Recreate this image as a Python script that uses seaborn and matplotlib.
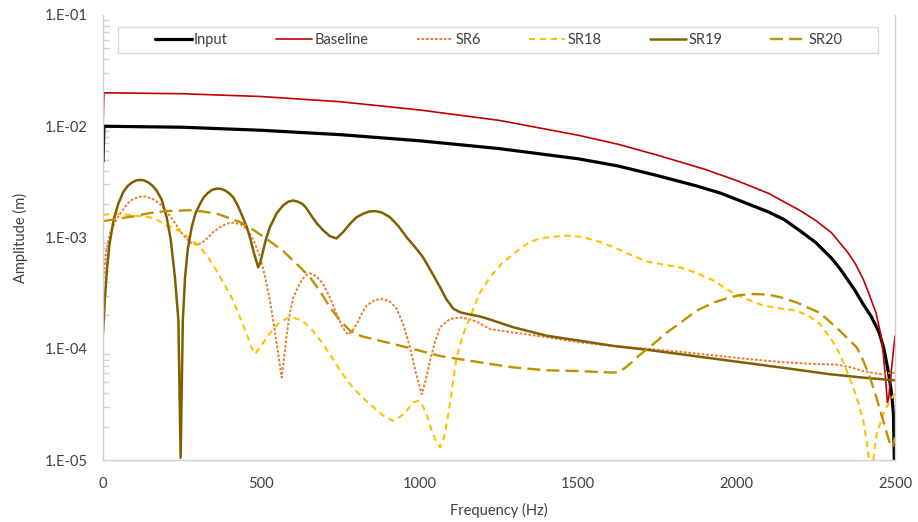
import numpy as np
import pandas as pd
import seaborn as sns
import matplotlib
matplotlib.use("Agg")
import matplotlib.pyplot as plt
from matplotlib.ticker import FixedLocator, FuncFormatter, LogLocator, NullFormatter
from matplotlib.patches import Rectangle

# ---- spectra (frequency in Hz, amplitude in m) ----
input_freq = [0, 3, 250, 500, 750, 1000, 1250, 1500, 1625, 1750, 1875, 1950, 2000, 2100, 2150,
              2200, 2250, 2300, 2325, 2350, 2375, 2400, 2425, 2450, 2465, 2480, 2490, 2495, 2500]
input_amp = [4.8e-3, 1.0e-2, 9.8e-3, 9.2e-3, 8.4e-3, 7.4e-3, 6.3e-3, 5.1e-3, 4.4e-3, 3.6e-3, 2.9e-3,
             2.5e-3, 2.2e-3, 1.7e-3, 1.45e-3, 1.15e-3, 9.0e-4, 6.5e-4, 5.3e-4, 4.2e-4, 3.3e-4,
             2.5e-4, 1.95e-4, 1.4e-4, 1.0e-4, 6.0e-5, 3.8e-5, 2.6e-5, 5e-6]

baseline_freq = [0, 3, 250, 500, 750, 1000, 1250, 1500, 1625, 1750, 1900, 2000, 2100, 2200, 2250,
                 2300, 2350, 2375, 2400, 2420, 2440, 2455, 2463, 2470, 2476, 2480, 2490, 2500]
baseline_amp = [9.6e-3, 2.0e-2, 1.96e-2, 1.85e-2, 1.66e-2, 1.40e-2, 1.13e-2, 8.3e-3, 6.9e-3, 5.5e-3,
                4.1e-3, 3.25e-3, 2.5e-3, 1.75e-3, 1.42e-3, 1.1e-3, 7.4e-4, 5.8e-4, 4.2e-4, 3.0e-4,
                2.1e-4, 1.35e-4, 9e-5, 5.5e-5, 3.3e-5, 3.6e-5, 7e-5, 1.3e-4]

sr6_freq = [0, 10, 22, 38, 54, 75, 96, 115, 133, 157, 180, 200, 222, 243, 264, 280, 296, 311, 327,
            348, 369, 390, 411, 433, 454, 475, 496, 512, 527, 540, 553, 564, 572, 580, 590, 601,
            622, 637, 653, 674, 695, 716, 737, 756, 774, 787, 801, 816, 832, 858, 885, 906, 927,
            948, 969, 988, 1006, 1019, 1032, 1048, 1064, 1095, 1127, 1155, 1180, 1222, 1295, 1400,
            1506, 1611, 1716, 1821, 1930, 2032, 2140, 2242, 2316, 2360, 2400, 2453, 2500]
sr6_amp = [3.9e-4, 7.5e-4, 1.09e-3, 1.38e-3, 1.64e-3, 1.98e-3, 2.23e-3, 2.32e-3, 2.34e-3, 2.22e-3,
           2.0e-3, 1.72e-3, 1.42e-3, 1.15e-3, 9.7e-4, 8.9e-4, 8.6e-4, 8.9e-4, 9.7e-4, 1.12e-3,
           1.24e-3, 1.33e-3, 1.36e-3, 1.32e-3, 1.2e-3, 9.5e-4, 6.65e-4, 4.4e-4, 2.71e-4, 1.6e-4,
           8.95e-5, 5.5e-5, 8.5e-5, 1.35e-4, 2.1e-4, 2.9e-4, 3.9e-4, 4.5e-4, 4.77e-4, 4.5e-4,
           3.8e-4, 2.9e-4, 2.06e-4, 1.55e-4, 1.34e-4, 1.45e-4, 1.67e-4, 2.05e-4, 2.44e-4, 2.75e-4,
           2.8e-4, 2.65e-4, 2.29e-4, 1.65e-4, 1.03e-4, 6.0e-5, 3.9e-5, 5.2e-5, 7.8e-5, 1.15e-4,
           1.56e-4, 1.85e-4, 1.91e-4, 1.85e-4, 1.75e-4, 1.5e-4, 1.4e-4, 1.27e-4, 1.14e-4, 1.06e-4,
           1.0e-4, 9.4e-5, 8.7e-5, 8.1e-5, 7.6e-5, 7.3e-5, 7.2e-5, 6.8e-5, 6.3e-5, 5.9e-5, 6.1e-5]

sr18_freq = [0, 40, 96, 148, 175, 201, 227, 253, 280, 306, 332, 359, 385, 411, 433, 454, 467, 480,
             498, 517, 538, 559, 580, 601, 627, 653, 685, 716, 748, 780, 816, 853, 885, 916, 938,
             959, 980, 995, 1008, 1021, 1036, 1050, 1064, 1077, 1090, 1103, 1116, 1137, 1158, 1190,
             1222, 1258, 1295, 1320, 1348, 1374, 1400, 1453, 1506, 1560, 1611, 1665, 1716, 1770,
             1821, 1874, 1927, 1979, 2032, 2084, 2140, 2190, 2230, 2263, 2300, 2326, 2348, 2368,
             2385, 2400, 2410, 2416, 2422, 2430, 2436, 2442, 2463, 2484, 2500]
sr18_amp = [1.6e-3, 1.64e-3, 1.58e-3, 1.52e-3, 1.42e-3, 1.28e-3, 1.2e-3, 1.09e-3, 9.6e-4, 8.2e-4,
            6.6e-4, 5.0e-4, 3.7e-4, 2.71e-4, 1.9e-4, 1.35e-4, 1.05e-4, 9.0e-5, 1.05e-4, 1.26e-4,
            1.52e-4, 1.74e-4, 1.87e-4, 1.91e-4, 1.8e-4, 1.56e-4, 1.2e-4, 8.95e-5, 6.4e-5, 4.8e-5,
            3.7e-5, 3.0e-5, 2.5e-5, 2.25e-5, 2.45e-5, 2.8e-5, 3.3e-5, 3.4e-5, 3.1e-5, 2.6e-5,
            1.9e-5, 1.5e-5, 1.3e-5, 1.6e-5, 2.6e-5, 4.6e-5, 8.4e-5, 1.35e-4, 1.91e-4, 3.2e-4,
            4.4e-4, 5.8e-4, 7.1e-4, 8.1e-4, 9.1e-4, 9.7e-4, 1.0e-3, 1.04e-3, 1.02e-3, 9.3e-4,
            8.2e-4, 7.0e-4, 6.1e-4, 5.7e-4, 5.4e-4, 4.8e-4, 4.1e-4, 3.3e-4, 2.8e-4, 2.44e-4,
            2.3e-4, 2.2e-4, 1.95e-4, 1.67e-4, 1.2e-4, 8.95e-5, 6.3e-5, 4.5e-5, 3.2e-5, 2.25e-5,
            1.5e-5, 1.1e-5, 7e-6, 9e-6, 1.3e-5, 1.7e-5, 2.6e-5, 3.4e-5, 4.0e-5]

sr19_freq = [0, 6, 12, 20, 33, 48, 64, 78, 90, 104, 117, 131, 145, 157, 169, 185, 201, 214, 227,
             238, 245, 252, 259, 268, 280, 292, 306, 318, 330, 344, 359, 372, 385, 398, 411, 425,
             440, 454, 466, 478, 490, 497, 505, 515, 527, 548, 569, 585, 600, 615, 630, 641, 653,
             674, 695, 716, 737, 758, 780, 800, 822, 840, 858, 880, 906, 932, 959, 985, 1010, 1037,
             1064, 1085, 1106, 1127, 1148, 1190, 1222, 1295, 1400, 1506, 1611, 1716, 1821, 1979,
             2137, 2295, 2400, 2500]
sr19_amp = [1.36e-4, 2.8e-4, 5.0e-4, 8.5e-4, 1.42e-3, 2.0e-3, 2.57e-3, 2.9e-3, 3.1e-3, 3.25e-3,
            3.3e-3, 3.25e-3, 3.1e-3, 2.9e-3, 2.65e-3, 2.2e-3, 1.52e-3, 9.5e-4, 4.4e-4, 1.8e-4,
            1.05e-5, 1.8e-4, 4.4e-4, 8.0e-4, 1.24e-3, 1.65e-3, 2.0e-3, 2.3e-3, 2.5e-3, 2.68e-3,
            2.75e-3, 2.74e-3, 2.65e-3, 2.5e-3, 2.3e-3, 1.95e-3, 1.55e-3, 1.24e-3, 9.5e-4, 7.0e-4,
            5.4e-4, 6.0e-4, 7.5e-4, 9.8e-4, 1.24e-3, 1.65e-3, 1.95e-3, 2.1e-3, 2.15e-3, 2.1e-3,
            2.0e-3, 1.85e-3, 1.64e-3, 1.35e-3, 1.16e-3, 1.03e-3, 9.8e-4, 1.12e-3, 1.33e-3, 1.52e-3,
            1.64e-3, 1.71e-3, 1.73e-3, 1.68e-3, 1.52e-3, 1.27e-3, 1.0e-3, 8.2e-4, 6.65e-4, 4.9e-4,
            3.57e-4, 2.75e-4, 2.29e-4, 2.13e-4, 2.06e-4, 1.95e-4, 1.83e-4, 1.56e-4, 1.31e-4,
            1.18e-4, 1.06e-4, 9.8e-5, 8.95e-5, 7.8e-5, 6.8e-5, 5.9e-5, 5.5e-5, 5.2e-5]

sr20_freq = [0, 43, 96, 148, 201, 285, 359, 432, 475, 517, 570, 622, 653, 685, 716, 748, 780, 815,
             853, 959, 1064, 1222, 1295, 1400, 1506, 1611, 1630, 1650, 1670, 1690, 1715, 1737,
             1780, 1821, 1874, 1927, 1979, 2016, 2053, 2085, 2116, 2150, 2190, 2263, 2326, 2379,
             2400, 2421, 2437, 2453, 2468, 2484, 2492, 2500]
sr20_amp = [1.4e-3, 1.47e-3, 1.55e-3, 1.66e-3, 1.73e-3, 1.76e-3, 1.64e-3, 1.38e-3, 1.17e-3,
            9.7e-4, 7.5e-4, 5.4e-4, 4.4e-4, 3.3e-4, 2.36e-4, 1.8e-4, 1.45e-4, 1.3e-4, 1.22e-4,
            1.03e-4, 8.6e-5, 7.3e-5, 6.8e-5, 6.4e-5, 6.3e-5, 6.1e-5, 6.2e-5, 6.8e-5, 7.6e-5,
            8.6e-5, 9.8e-5, 1.1e-4, 1.4e-4, 1.7e-4, 2.2e-4, 2.6e-4, 2.9e-4, 3.05e-4, 3.1e-4,
            3.08e-4, 3.0e-4, 2.85e-4, 2.6e-4, 2.1e-4, 1.45e-4, 1.03e-4, 7.8e-5, 5.5e-5, 4.0e-5,
            2.8e-5, 2.0e-5, 1.4e-5, 1.3e-5, 1.6e-5]

series_names = ["Input", "Baseline", "SR6", "SR18", "SR19", "SR20"]
x_ticks = [0, 500, 1000, 1500, 2000, 2500]
y_ticks = [1e-5, 1e-4, 1e-3, 1e-2, 1e-1]

# ---- styling ----
styles = {
    "Input":    dict(color="#000000", lw=2.3, ls="-"),
    "Baseline": dict(color="#C00000", lw=1.2, ls="-"),
    "SR6":      dict(color="#ED7D31", lw=1.4, ls=(0, (1.4, 0.9))),
    "SR18":     dict(color="#FFC000", lw=1.5, ls=(0, (3.0, 2.2))),
    "SR19":     dict(color="#7F6000", lw=1.8, ls="-"),
    "SR20":     dict(color="#BF9000", lw=1.7, ls=(0, (5.5, 2.6))),
}

frames = []
for name, fr, amp in zip(series_names,
                         [input_freq, baseline_freq, sr6_freq, sr18_freq, sr19_freq, sr20_freq],
                         [input_amp, baseline_amp, sr6_amp, sr18_amp, sr19_amp, sr20_amp]):
    frames.append(pd.DataFrame({"Frequency": fr, "Amplitude": amp, "Series": name}))
df = pd.concat(frames, ignore_index=True)

sns.set_theme(style="white")
plt.rcParams["font.family"] = ["Lato", "DejaVu Sans"]

fig = plt.figure(figsize=(9.18, 5.22), dpi=100)
ax = fig.add_axes([103 / 918, 1 - 460 / 522, 792 / 918, 445 / 522])

for name in series_names:
    st = styles[name]
    sub = df[df["Series"] == name]
    sns.lineplot(data=sub, x="Frequency", y="Amplitude", ax=ax, estimator=None, sort=False,
                 color=st["color"], linewidth=st["lw"], linestyle=st["ls"], label=name,
                 legend=False)

ax.set_yscale("log")
ax.set_xlim(0, 2500)
ax.set_ylim(1e-5, 1e-1)

ax.xaxis.set_major_locator(FixedLocator(x_ticks))
ax.yaxis.set_major_locator(FixedLocator(y_ticks))
ax.yaxis.set_minor_locator(LogLocator(base=10, subs=np.arange(2, 10)))
ax.yaxis.set_minor_formatter(NullFormatter())
ax.yaxis.set_major_formatter(FuncFormatter(lambda v, p: "1.E-%02d" % round(-np.log10(v))))

grey = "#D0D0D0"
for side in ["left", "bottom", "right"]:
    ax.spines[side].set_color(grey)
    ax.spines[side].set_linewidth(1.0)
ax.spines["top"].set_visible(False)

ax.tick_params(axis="both", which="major", direction="in", length=5, width=1, color=grey,
               labelsize=10.5, labelcolor="#404040")
ax.tick_params(axis="y", which="major", pad=11)
ax.tick_params(axis="y", which="minor", direction="in", length=4, width=1, color=grey, left=True)
ax.tick_params(axis="x", which="major", pad=12)

ax.set_xlabel("Frequency (Hz)", fontsize=10.5, color="#404040", labelpad=9)
ax.set_ylabel("Amplitude (m)", fontsize=10.5, color="#404040", labelpad=12)

# legend box across the top of the plot area
ax.add_patch(Rectangle((15 / 792, 1 - 38 / 445), 760 / 792, 26 / 445, transform=ax.transAxes,
                       facecolor="white", edgecolor="#D9D9D9", lw=1.0, zorder=5))
handles, labels = ax.get_legend_handles_labels()
leg = ax.legend(handles, labels, ncol=6, loc="center", bbox_to_anchor=(0.5, 1 - 25 / 445),
                frameon=False, fontsize=10.5, handlelength=2.5, handletextpad=0.15,
                columnspacing=3.3, borderaxespad=0)
leg.set_zorder(6)
for t in leg.get_texts():
    t.set_color("#404040")

fig.savefig("out.png", dpi=100, facecolor="white")
